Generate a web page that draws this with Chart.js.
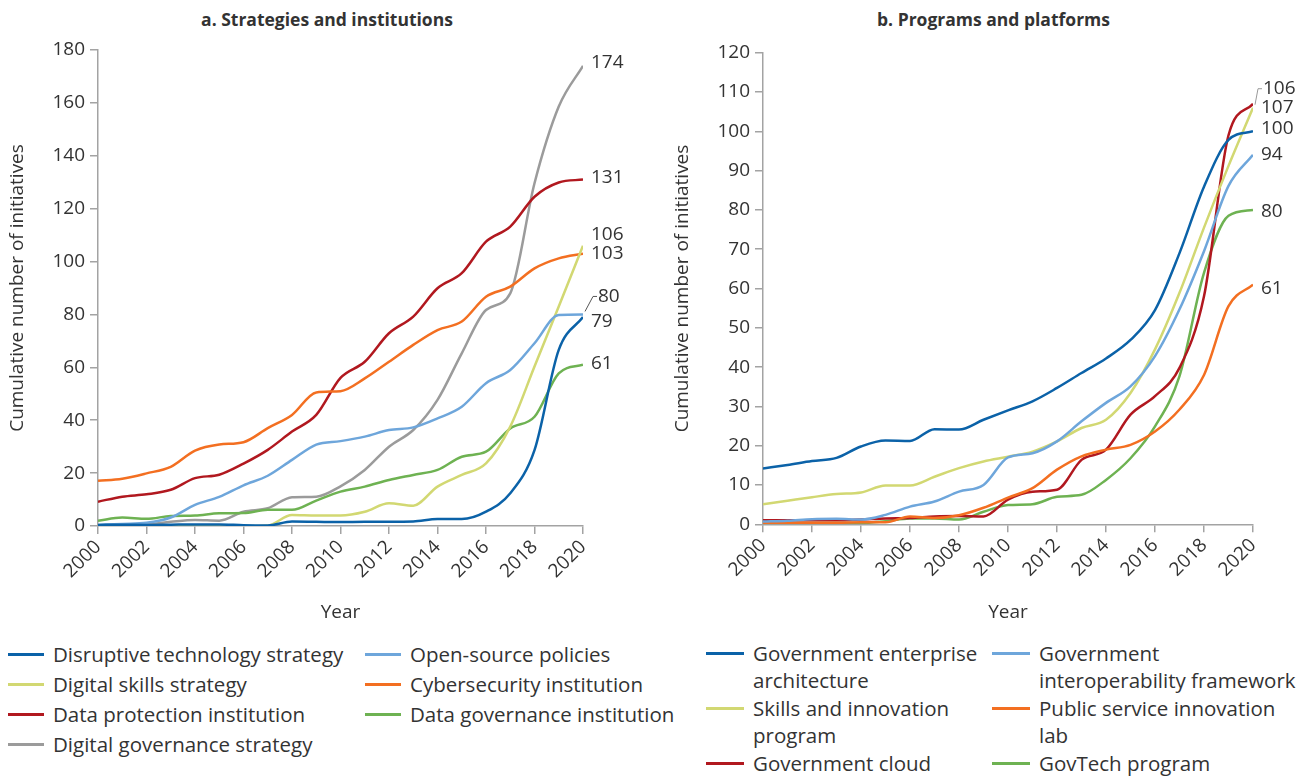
<!DOCTYPE html>
<html>
<head>
<meta charset="utf-8">
<script src="https://cdn.jsdelivr.net/npm/chart.js@4"></script>
<style>
  body { margin: 0; background: #fff; width: 1301px; height: 778px; position: relative; overflow: hidden;
         font-family: "Open Sans", sans-serif; color: #333; }
  .panel { position: absolute; top: 0; height: 630px; }
  .title { position: absolute; top: 9px; font-weight: bold; font-size: 17.5px; line-height: 20px; text-align: center; }
  .legend { position: absolute; display: grid; font-size: 20.5px; line-height: 27px; }
  .item { display: flex; align-items: flex-start; white-space: pre; }
  .sw { height: 3px; margin-top: 12px; flex: none; }
</style>
</head>
<body>
<div class="title" style="left:0;width:654px">a. Strategies and institutions</div>
<div class="title" style="left:686px;width:615px">b. Programs and platforms</div>
<div class="panel" style="left:0;width:654px"><canvas id="chartA"></canvas></div>
<div class="panel" style="left:665px;width:636px"><canvas id="chartB"></canvas></div>
<div class="legend" id="legendA" style="left:8px;top:641px;row-gap:3px;grid-template-columns:357px 300px"></div>
<div class="legend" id="legendB" style="left:706px;top:640px;row-gap:1px;grid-template-columns:286px 300px"></div>
<script>
const years = [2000, 2001, 2002, 2003, 2004, 2005, 2006, 2007, 2008, 2009, 2010,
               2011, 2012, 2013, 2014, 2015, 2016, 2017, 2018, 2019, 2020];

// a. Strategies and institutions
const namesA = ['Disruptive technology strategy', 'Open-source policies', 'Digital skills strategy',
                'Cybersecurity institution', 'Data protection institution', 'Data governance institution',
                'Digital governance strategy'];
const disruptiveTech   = [0.4, 0.5, 0.4, 0.5, 0.6, 0.6, 0.3, 0.2, 1.7, 1.6, 1.5, 1.6, 1.6, 1.7, 2.6, 2.6, 5.4, 12.4, 28.7, 66.6, 79];
const openSource       = [0.4, 0.8, 1.2, 3.2, 8.0, 11.0, 15.4, 19.0, 25.0, 30.8, 32.1, 33.8, 36.3, 37.3, 40.7, 45.1, 54.0, 59.0, 69.1, 79.8, 80];
const digitalSkills    = [0, 0, 0, 0, 0, 0, 0, 0.2, 4.2, 4.0, 4.0, 5.4, 8.6, 7.7, 14.9, 19.3, 23.7, 37.6, 60.3, 83.0, 106];
const cybersecurity    = [17.1, 17.9, 19.9, 22.4, 28.5, 30.8, 31.7, 37.0, 42.0, 50.5, 51.0, 55.8, 62.1, 68.5, 74.1, 77.3, 86.7, 90.5, 97.4, 101.2, 103];
const dataProtection   = [9.2, 11.1, 12.0, 13.7, 18.1, 19.4, 23.6, 28.8, 35.7, 42.0, 56.0, 62.1, 72.9, 79.2, 89.9, 95.6, 107.5, 113.2, 124.5, 129.9, 131];
const dataGovernance   = [2.0, 3.2, 2.7, 3.8, 4.0, 4.8, 4.9, 6.1, 6.1, 9.6, 13.0, 14.9, 17.4, 19.3, 21.2, 26.2, 28.1, 36.9, 41.3, 57.7, 61];
const digitalGovStrat  = [0.3, 0.4, 0.6, 1.6, 2.3, 2.0, 5.4, 6.7, 10.9, 11.1, 15.0, 21.2, 30.0, 36.3, 47.7, 65.3, 81.7, 88.0, 129.6, 158.6, 174];

// b. Programs and platforms
const namesB = ['Government enterprise\narchitecture', 'Government\ninteroperability framework',
                'Skills and innovation\nprogram', 'Public service innovation\nlab',
                'Government cloud', 'GovTech program'];
const govEnterprise    = [14.2, 15.1, 16.1, 16.9, 19.8, 21.3, 21.2, 24.2, 24.1, 26.6, 29.0, 31.3, 34.7, 38.5, 42.2, 46.9, 54.5, 69.0, 85.9, 97.8, 100];
const interoperability = [0.7, 0.9, 1.3, 1.4, 1.2, 2.4, 4.5, 5.8, 8.3, 10.0, 17.0, 18.1, 21.1, 26.2, 30.9, 35.1, 42.8, 54.7, 69.5, 86.1, 94];
const skillsInnovation = [5.1, 6.0, 6.9, 7.7, 8.1, 9.9, 9.9, 12.1, 14.3, 16.0, 17.2, 18.5, 21.1, 24.5, 26.6, 33.4, 44.5, 58.9, 75.5, 91.2, 106];
const innovationLab    = [0.4, 0.4, 0.4, 0.4, 0.5, 0.5, 2.0, 1.6, 2.3, 4.2, 6.8, 9.2, 13.9, 17.3, 19.0, 20.2, 23.6, 29.2, 38.0, 55.5, 61];
const govCloud         = [1.0, 1.0, 1.0, 1.0, 1.2, 1.5, 1.6, 2.0, 2.1, 2.0, 6.3, 8.3, 8.8, 16.4, 19.0, 27.9, 32.6, 39.8, 58.0, 99.0, 107];
const govTech          = [0.3, 0.3, 0.3, 0.3, 0.3, 0.8, 1.5, 1.5, 1.2, 3.2, 4.9, 5.1, 7.0, 7.5, 11.3, 16.8, 24.9, 37.7, 64.0, 78.5, 80];

const darkBlue = '#0B62A8', lightBlue = '#6EA6DB', yellow = '#D2D872', orange = '#F36F21',
      red = '#B1181F', green = '#6EB252', gray = '#9B9B9B';
const textColor = '#333', axisColor = '#A3A3A3';
const font = { family: '"Open Sans", sans-serif', size: 19 };

function series(name, values, color) {
  return { label: name.replace('\n', ' '), data: years.map((y, i) => ({ x: y, y: values[i] })),
           borderColor: color, backgroundColor: color };
}

const dataA = [
  series(namesA[0], disruptiveTech, darkBlue),
  series(namesA[1], openSource, lightBlue),
  series(namesA[2], digitalSkills, yellow),
  series(namesA[3], cybersecurity, orange),
  series(namesA[4], dataProtection, red),
  series(namesA[5], dataGovernance, green),
  series(namesA[6], digitalGovStrat, gray)
];
const dataB = [
  series(namesB[0], govEnterprise, darkBlue),
  series(namesB[1], interoperability, lightBlue),
  series(namesB[2], skillsInnovation, yellow),
  series(namesB[3], innovationLab, orange),
  series(namesB[4], govCloud, red),
  series(namesB[5], govTech, green)
];

// value labels at the end of each line
const endLabels = {
  id: 'endLabels',
  afterDatasetsDraw(chart, args, opts) {
    const { ctx, scales: { x, y } } = chart;
    ctx.save();
    ctx.font = '19px "Open Sans", sans-serif';
    ctx.fillStyle = textColor;
    ctx.textBaseline = 'middle';
    chart.data.datasets.forEach((ds, i) => {
      const last = ds.data[ds.data.length - 1];
      const px = x.getPixelForValue(last.x), py = y.getPixelForValue(last.y);
      const o = opts.offsets[i] || {};
      const lx = px + (o.dx || 8), ly = py + (o.dy || 0);
      if (o.leader) {
        ctx.strokeStyle = o.leader;
        ctx.lineWidth = 1;
        ctx.beginPath();
        ctx.moveTo(px + 2, py - 3);
        ctx.lineTo(lx - 5, ly);
        ctx.lineTo(lx - 1, ly);
        ctx.stroke();
      }
      ctx.fillText(String(last.y), lx, ly);
    });
    ctx.restore();
  }
};

function makeChart(id, datasets, yMax, yStep, padTop, padRight, xHeight, offsets) {
  return new Chart(document.getElementById(id), {
    type: 'line',
    data: { datasets },
    options: {
      responsive: true,
      maintainAspectRatio: false,
      animation: false,
      layout: { padding: { top: padTop, right: padRight, left: 0, bottom: 0 } },
      elements: {
        point: { radius: 0 },
        line: { borderWidth: 2.5, cubicInterpolationMode: 'monotone' }
      },
      plugins: {
        legend: { display: false },
        tooltip: { enabled: false },
        endLabels: { offsets }
      },
      scales: {
        x: {
          type: 'linear', min: 2000, max: 2020,
          ticks: { stepSize: 2, minRotation: 45, maxRotation: 45, font, color: textColor, padding: 2,
                   callback: v => String(v) },
          grid: { drawOnChartArea: false, color: axisColor, lineWidth: 1.5, tickLength: 8 },
          border: { color: axisColor, width: 1.5 },
          title: { display: true, text: 'Year', font, color: textColor, padding: { top: 6, bottom: 6 } },
          afterFit: s => { s.height = xHeight; }
        },
        y: {
          min: 0, max: yMax,
          ticks: { stepSize: yStep, font, color: textColor, padding: 5 },
          grid: { drawOnChartArea: false, color: axisColor, lineWidth: 1.5, tickLength: 8 },
          border: { color: axisColor, width: 1.5 },
          title: { display: true, text: 'Cumulative number of initiatives', font, color: textColor,
                   padding: { top: 6, bottom: 6 } },
          afterFit: s => { s.width = 98; }
        }
      }
    },
    plugins: [endLabels]
  });
}

makeChart('chartA', dataA, 180, 20, 50, 71, 104, [
  { dy: 5 }, { dx: 15, dy: -18, leader: '#555' }, { dy: -11 }, {}, { dy: -2 }, { dy: -1 }, { dy: -3 }
]);
makeChart('chartB', dataB, 120, 10, 52.7, 48, 105.7, [
  { dy: -3 }, {}, { dx: 10, dy: -19, leader: '#999' }, { dy: 4 }, { dy: 4 }, { dy: 2 }
]);

function buildLegend(id, names, datasets, swatchW, gap) {
  const box = document.getElementById(id);
  datasets.forEach((ds, i) => {
    const item = document.createElement('div');
    item.className = 'item';
    const sw = document.createElement('span');
    sw.className = 'sw';
    sw.style.width = swatchW + 'px';
    sw.style.marginRight = gap + 'px';
    sw.style.background = ds.borderColor;
    const txt = document.createElement('span');
    txt.textContent = names[i];
    item.appendChild(sw);
    item.appendChild(txt);
    box.appendChild(item);
  });
}
buildLegend('legendA', namesA, dataA, 36, 9);
buildLegend('legendB', namesB, dataB, 38, 9);
</script>
</body>
</html>
